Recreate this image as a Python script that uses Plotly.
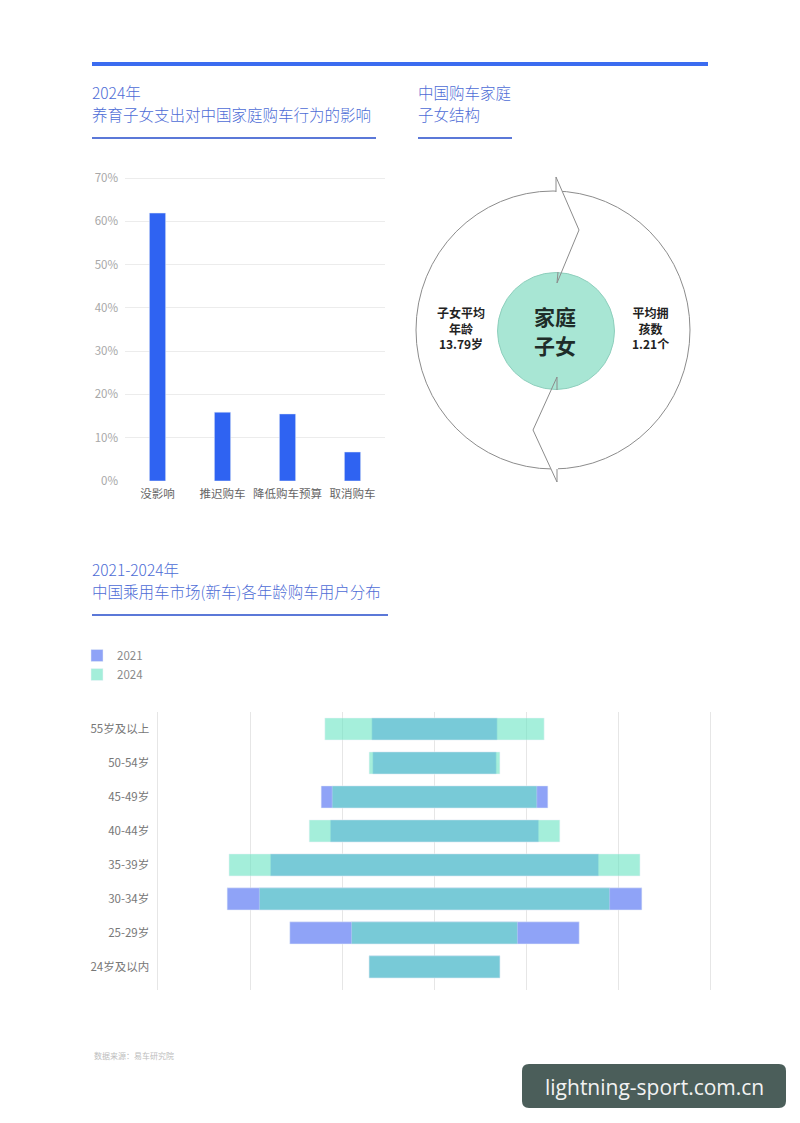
import plotly.graph_objects as go

# ---------------- data ----------------
impact_categories = ['没影响', '推迟购车', '降低购车预算', '取消购车']
impact_values = [61.9, 15.9, 15.5, 6.7]
impact_ticks = [0, 10, 20, 30, 40, 50, 60, 70]

age_groups = ['55岁及以上', '50-54岁', '45-49岁', '40-44岁', '35-39岁', '30-34岁', '25-29岁', '24岁及以内']
share_2021 = [6.8, 6.7, 12.3, 11.3, 17.8, 22.5, 15.7, 7.1]
share_2024 = [11.9, 7.1, 11.1, 13.6, 22.3, 19.0, 9.0, 7.1]
series_names = ['2021', '2024']

avg_child_age = 13.79
avg_children = 1.21

W, H = 800, 1123
FONT = 'Noto Sans CJK SC'
TITLE_BLUE = '#4d6cd6'


def px(x):
    return x / W


def py(y):
    return 1 - y / H


fig = go.Figure()

# ---------------- bar chart ----------------
fig.add_trace(go.Bar(
    x=impact_categories, y=impact_values, marker_color='#2f63f2',
    width=0.25, xaxis='x', yaxis='y', showlegend=False,
))

# ---------------- butterfly chart ----------------
fig.add_trace(go.Bar(
    y=age_groups, x=[2 * v for v in share_2021], base=[-v for v in share_2021],
    orientation='h', name=series_names[0], marker_color='#8fa3f7',
    width=0.65, xaxis='x2', yaxis='y2',
))
fig.add_trace(go.Bar(
    y=age_groups, x=[2 * v for v in share_2024], base=[-v for v in share_2024],
    orientation='h', name=series_names[1], marker_color='#69e4c3', opacity=0.6,
    width=0.65, xaxis='x2', yaxis='y2',
))

# bar chart axes
bar_top = 481 - 70.3 * (303 / 70)
fig.update_layout(
    xaxis=dict(domain=[px(125), px(385)], range=[-0.5, 3.5], showgrid=False,
               showline=False, zeroline=False, ticks='', automargin=False,
               ticklabelstandoff=4,
               tickfont=dict(family=FONT, size=11.5, color='#666666'), anchor='y'),
    yaxis=dict(domain=[py(481), py(bar_top)], range=[0, 70.3], tickmode='array',
               tickvals=impact_ticks, ticktext=[f'{v}%' for v in impact_ticks],
               showgrid=True, gridcolor='#ececec', gridwidth=1, automargin=False,
               zeroline=False, showline=False, ticklabelstandoff=6,
               tickfont=dict(family=FONT, size=11.5, color='#a8a8a8'), anchor='x'),
)

# butterfly axes
u = 553 / 60.0
fig.update_layout(
    xaxis2=dict(domain=[px(158 - 0.2 * u), px(711 + 0.2 * u)], range=[-30.2, 30.2],
                tickvals=[-30, -20, -10, 0, 10, 20, 30], showticklabels=False,
                showgrid=True, gridcolor='#e6e6e6', gridwidth=1, zeroline=False,
                layer='above traces', anchor='y2', automargin=False),
    yaxis2=dict(domain=[py(990), py(712)], type='category', categoryarray=age_groups,
                range=[7.68, -0.5], showgrid=False, zeroline=False, ticks='',
                ticklabelstandoff=6, automargin=False,
                tickfont=dict(family=FONT, size=11.5, color='#777777'), anchor='x2'),
    barmode='overlay',
)

# ---------------- decorations ----------------
shapes = []
shapes.append(dict(type='line', xref='paper', yref='paper', x0=px(92), x1=px(708),
                   y0=py(64), y1=py(64), line=dict(color='#3b6cf0', width=4)))
for (a, b, y) in [(92, 376, 138), (418, 512, 138), (92, 388, 615)]:
    shapes.append(dict(type='line', xref='paper', yref='paper', x0=px(a), x1=px(b),
                       y0=py(y), y1=py(y), line=dict(color='#5b78d8', width=2)))

cx, cy, rx, ry = 553, 330, 137, 139
shapes.append(dict(type='circle', xref='paper', yref='paper',
                   x0=px(cx - rx), x1=px(cx + rx), y0=py(cy + ry), y1=py(cy - ry),
                   line=dict(color='#8c8c8c', width=1), fillcolor='rgba(0,0,0,0)'))


def path(points, close=False):
    s = 'M ' + ' L '.join(f'{px(x):.5f},{py(y):.5f}' for x, y in points)
    return s + (' Z' if close else '')


shapes.append(dict(type='path', xref='paper', yref='paper',
                   path=path([(556, 177), (579, 230), (557, 283), (556, 283)], True),
                   fillcolor='white', line=dict(width=0)))
shapes.append(dict(type='path', xref='paper', yref='paper',
                   path=path([(557, 377), (533, 430), (557, 482), (558, 482), (558, 377)], True),
                   fillcolor='white', line=dict(width=0)))
icx, icy, ir = 556, 331, 58.5
shapes.append(dict(type='circle', xref='paper', yref='paper',
                   x0=px(icx - ir), x1=px(icx + ir), y0=py(icy + ir), y1=py(icy - ir),
                   fillcolor='#a8e6d4', line=dict(color='#8fcfbd', width=1)))
shapes.append(dict(type='path', xref='paper', yref='paper',
                   path=path([(556, 192), (556, 177), (579, 230), (557, 283), (558, 272)]),
                   line=dict(color='#8c8c8c', width=1)))
shapes.append(dict(type='path', xref='paper', yref='paper',
                   path=path([(557, 390), (557, 377), (533, 430), (557, 482), (557, 469)]),
                   line=dict(color='#8c8c8c', width=1)))

bx0, bx1, by0, by1, r = 522, 786, 1064, 1108, 7
box = (f'M {px(bx0 + r)},{py(by0)} L {px(bx1 - r)},{py(by0)} '
       f'Q {px(bx1)},{py(by0)} {px(bx1)},{py(by0 + r)} L {px(bx1)},{py(by1 - r)} '
       f'Q {px(bx1)},{py(by1)} {px(bx1 - r)},{py(by1)} L {px(bx0 + r)},{py(by1)} '
       f'Q {px(bx0)},{py(by1)} {px(bx0)},{py(by1 - r)} L {px(bx0)},{py(by0 + r)} '
       f'Q {px(bx0)},{py(by0)} {px(bx0 + r)},{py(by0)} Z')
shapes.append(dict(type='path', xref='paper', yref='paper', path=box,
                   fillcolor='#4b5e5a', line=dict(width=0)))

annotations = []


def note(text, x, y, size, color, anchor='left', weight=None, family=FONT):
    f = dict(family=family, size=size, color=color)
    if weight:
        f['weight'] = weight
    annotations.append(dict(text=text, x=px(x), y=py(y), xref='paper', yref='paper',
                            xanchor=anchor, yanchor='middle', showarrow=False, font=f))


note('2024年', 90, 92, 15.5, TITLE_BLUE, weight=300)
note('养育子女支出对中国家庭购车行为的影响', 90, 114, 15.5, TITLE_BLUE, weight=300)
note('中国购车家庭', 416, 92, 15.5, TITLE_BLUE, weight=300)
note('子女结构', 416, 114, 15.5, TITLE_BLUE, weight=300)
note('2021-2024年', 90, 569, 15.5, TITLE_BLUE, weight=300)
note('中国乘用车市场(新车)各年龄购车用户分布', 90, 591, 15.5, TITLE_BLUE, weight=300)

# circle texts
note(f'子女平均<br>年龄<br>{avg_child_age}岁', 461, 328, 12, '#222222', 'center', 700)
note(f'平均拥<br>孩数<br>{avg_children}个', 650, 328, 12, '#222222', 'center', 700)
note('家庭', 555, 316, 21, '#1f2d29', 'center', 700)
note('子女', 555, 345, 21, '#1f2d29', 'center', 700)

note('数据来源：易车研究院', 92, 1055, 8, '#bdbdbd')
note('lightning-sport.com.cn', 654, 1087, 21, '#f2f2f2', 'center', None, 'Open Sans')

fig.update_layout(
    width=W, height=H, margin=dict(l=0, r=0, t=0, b=0, pad=0, autoexpand=False),
    paper_bgcolor='white', plot_bgcolor='white',
    shapes=shapes, annotations=annotations,
    font=dict(family=FONT),
    legend=dict(x=px(77), y=py(641), xanchor='left', yanchor='top',
                font=dict(family=FONT, size=11.5, color='#8a8a8a'),
                tracegroupgap=2, itemwidth=30, bgcolor='rgba(0,0,0,0)'),
)

fig.write_html('out.html', config={'displayModeBar': False},
               post_script="document.body.style.margin='0';document.body.style.overflow='hidden';")
